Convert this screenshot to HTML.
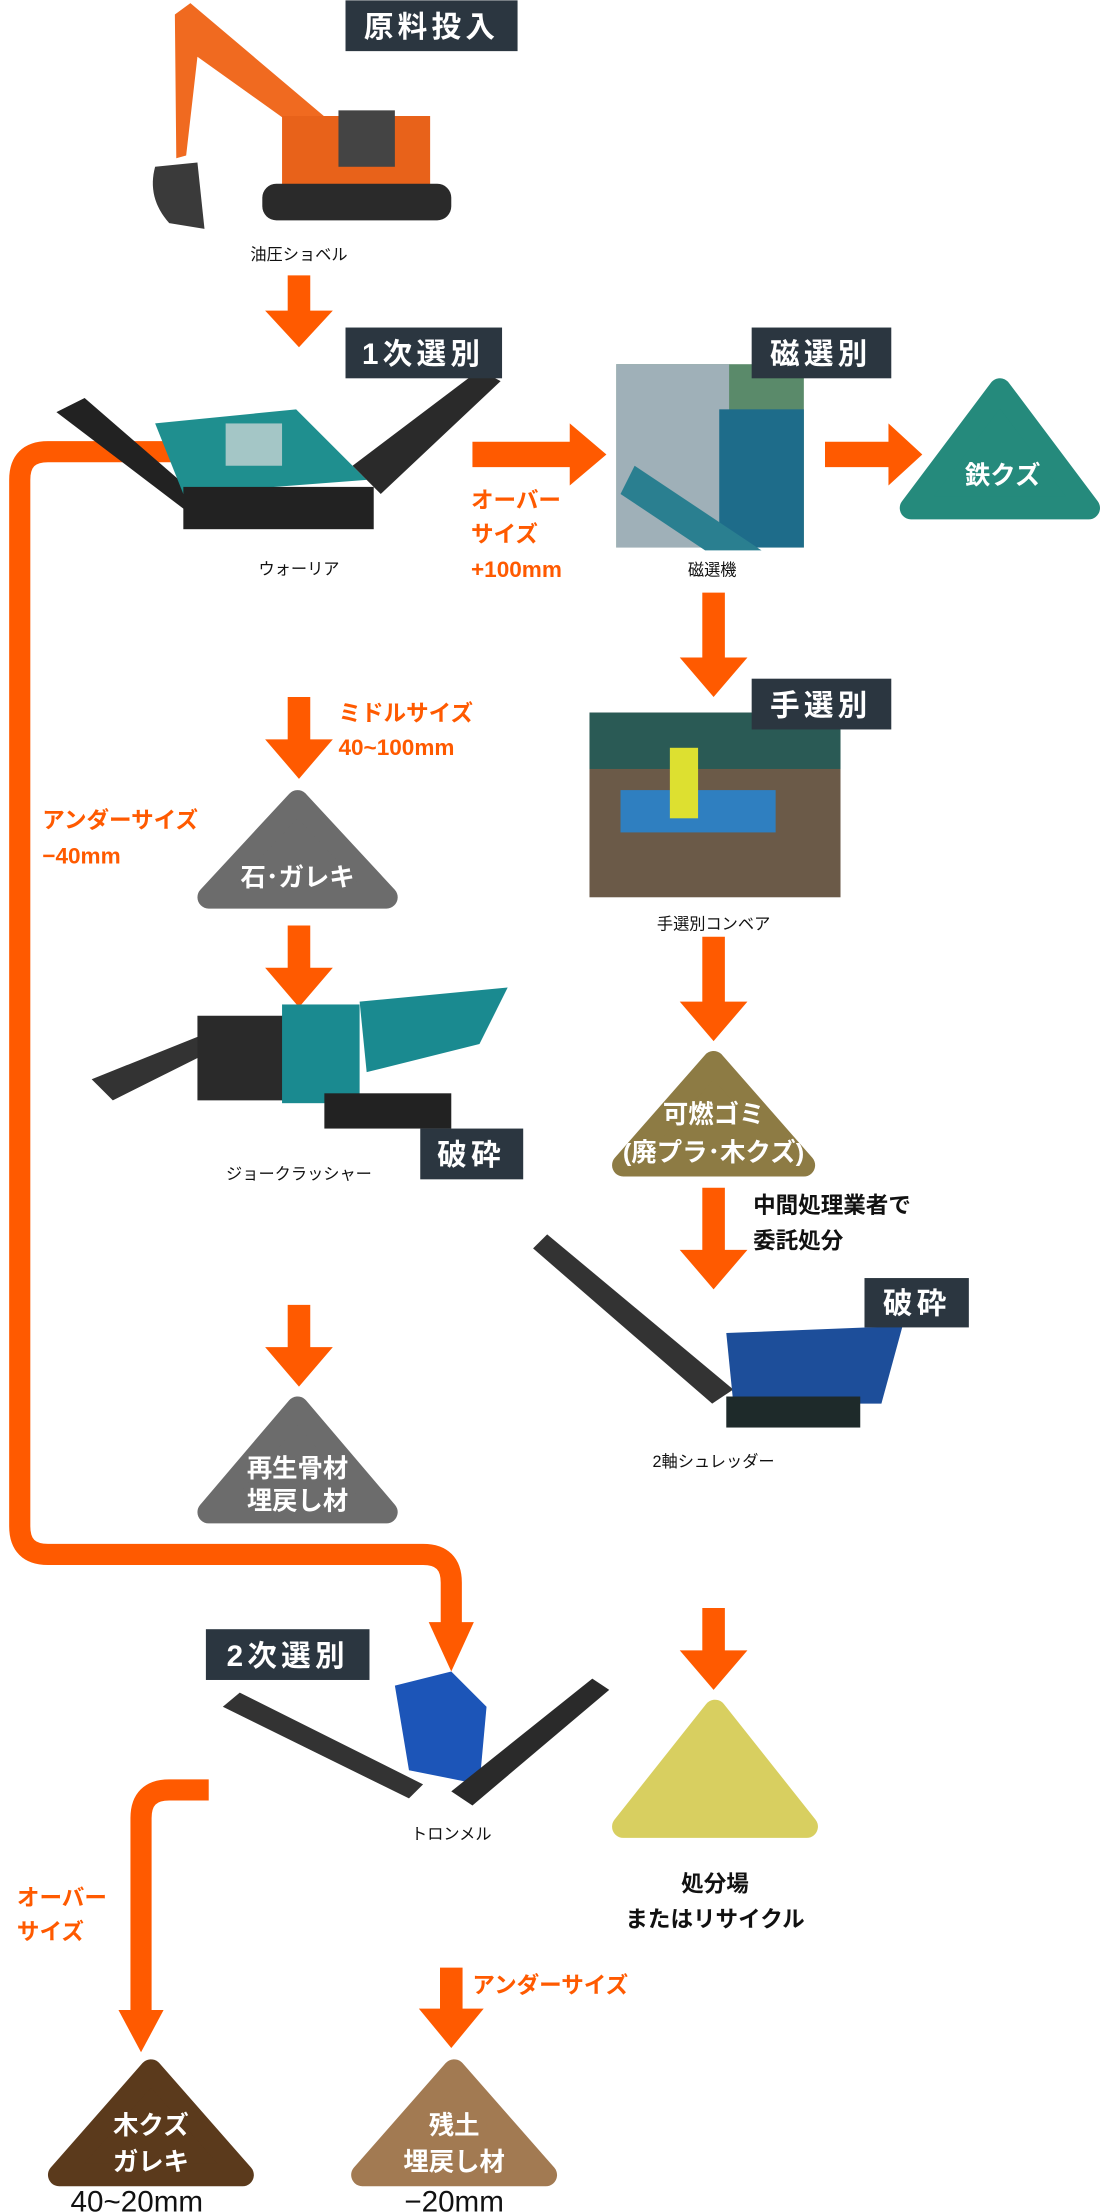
<!DOCTYPE html>
<html><head><meta charset="utf-8"><style>
html,body{margin:0;padding:0;background:#fff;}
svg{display:block;}
text{font-family:"Liberation Sans","Noto Sans CJK JP",sans-serif;}
</style></head><body>
<svg width="1100" height="2212" viewBox="0 0 780 1568" xmlns="http://www.w3.org/2000/svg">
<!-- orange connectors -->
<g fill="none" stroke="#ff5a00" stroke-width="15">
<path d="M122 320 H34 Q14 320 14 340 V1082 Q14 1102 34 1102 H300 Q320 1102 320 1122 V1160"/>
<path d="M148 1269 H120 Q100 1269 100 1289 V1430"/>
</g>
<g fill="#ff5a00">
<path d="M204 195 H220 V220 H236 L212 246 L188 220 H204 Z"/>
<path d="M335 313 H404 V300 L430 322 L404 344 V331 H335 Z"/>
<path d="M585 313 H630 V300 L654 322 L630 344 V331 H585 Z"/>
<path d="M498 420 H514 V466 H530 L506 494 L482 466 H498 Z"/>
<path d="M204 494 H220 V524 H236 L212 552 L188 524 H204 Z"/>
<path d="M204 656 H220 V686 H236 L212 714 L188 686 H204 Z"/>
<path d="M498 664 H514 V710 H530 L506 738 L482 710 H498 Z"/>
<path d="M498 842 H514 V886 H530 L506 914 L482 886 H498 Z"/>
<path d="M204 925 H220 V955 H236 L212 983 L188 955 H204 Z"/>
<path d="M304 1150 H336 L320 1185 Z"/>
<path d="M498 1140 H514 V1170 H530 L506 1198 L482 1170 H498 Z"/>
<path d="M84 1425 H116 L100 1455 Z"/>
<path d="M312 1395 H328 V1424 H343 L320 1452 L297 1424 H312 Z"/>
</g>
<!-- machines (approximations) -->
<g>
<path d="M124 10 L135 2 L245 95 L238 110 L140 40 L132 110 L125 112 Z" fill="#f06a20"/>
<path d="M110 118 Q104 140 120 158 L145 162 L140 115 Z" fill="#3a3a3a"/>
<rect x="200" y="82" width="105" height="52" fill="#e8621a"/>
<rect x="240" y="78" width="40" height="40" fill="#444"/>
<rect x="186" y="130" width="134" height="26" rx="10" fill="#2a2a2a"/>
</g>
<g>
<path d="M40 292 L60 282 L150 360 L140 368 Z" fill="#222"/>
<path d="M110 300 L210 290 L260 340 L130 350 Z" fill="#1f8f8f"/>
<path d="M250 330 L340 262 L355 270 L270 350 Z" fill="#2a2a2a"/>
<rect x="160" y="300" width="40" height="30" fill="#ddd" opacity=".7"/>
<rect x="130" y="345" width="135" height="30" fill="#222"/>
</g>
<rect x="437" y="258" width="133" height="130" fill="#5a8a6a"/>
<rect x="437" y="258" width="80" height="130" fill="#9fb0b8"/>
<rect x="510" y="290" width="60" height="98" fill="#1e6c8a"/>
<path d="M450 330 L540 390 L500 390 L440 350 Z" fill="#2a7f90"/>
<rect x="418" y="505" width="178" height="131" fill="#6b5a48"/>
<rect x="418" y="505" width="178" height="40" fill="#2a5a55"/>
<rect x="440" y="560" width="110" height="30" fill="#2f7fc0"/>
<rect x="475" y="530" width="20" height="50" fill="#dde030"/>
<g>
<path d="M65 765 L140 735 L150 745 L80 780 Z" fill="#333"/>
<rect x="140" y="720" width="110" height="60" fill="#2a2a2a"/>
<rect x="200" y="712" width="55" height="70" fill="#1a8a90"/>
<path d="M255 710 L360 700 L340 740 L260 760 Z" fill="#1a8a90"/>
<rect x="230" y="775" width="90" height="25" fill="#222"/>
</g>
<g>
<path d="M378 885 L388 875 L520 985 L505 995 Z" fill="#333"/>
<path d="M515 945 L640 940 L625 995 L520 995 Z" fill="#1d4e9a"/>
<rect x="515" y="990" width="95" height="22" fill="#1e2a2a"/>
</g>
<g>
<path d="M158 1210 L170 1200 L300 1265 L290 1275 Z" fill="#333"/>
<path d="M280 1195 L320 1185 L345 1210 L340 1265 L290 1255 Z" fill="#1c55b8"/>
<path d="M320 1270 L420 1190 L432 1198 L335 1280 Z" fill="#2a2a2a"/>
</g>
<!-- dark label boxes -->
<g fill="#2b3640">
<rect x="245" y="0" width="122" height="36"/>
<rect x="245" y="232" width="111" height="36"/>
<rect x="533" y="232" width="99" height="36"/>
<rect x="533" y="481" width="99" height="36"/>
<rect x="298" y="800" width="73" height="36"/>
<rect x="613" y="906" width="74" height="35"/>
<rect x="146" y="1155" width="116" height="36"/>
</g>
<g fill="#fff" font-size="21" font-weight="bold" text-anchor="middle" letter-spacing="3">
<text x="306" y="26">原料投入</text>
<text x="300" y="258">1次選別</text>
<text x="582" y="258">磁選別</text>
<text x="582" y="507">手選別</text>
<text x="334" y="826">破砕</text>
<text x="650" y="931">破砕</text>
<text x="204" y="1181">2次選別</text>
</g>
<!-- captions -->
<g fill="#111" font-size="11.5" text-anchor="middle">
<text x="212" y="184">油圧ショベル</text>
<text x="212" y="407">ウォーリア</text>
<text x="505" y="408">磁選機</text>
<text x="506" y="659">手選別コンベア</text>
<text x="212" y="836">ジョークラッシャー</text>
<text x="506" y="1040">2軸シュレッダー</text>
<text x="320" y="1304">トロンメル</text>
</g>
<!-- triangles -->
<g stroke-linejoin="round" stroke-width="16">
<path d="M709 276 L772 360 L646 360 Z" fill="#258a7c" stroke="#258a7c"/>
<path d="M211 568 L274 636 L148 636 Z" fill="#6c6c6c" stroke="#6c6c6c"/>
<path d="M211 998 L274 1072 L148 1072 Z" fill="#6c6c6c" stroke="#6c6c6c"/>
<path d="M506 753 L570 826 L442 826 Z" fill="#8d7b44" stroke="#8d7b44"/>
<path d="M507 1213 L572 1295 L442 1295 Z" fill="#d8cf60" stroke="#d8cf60"/>
<path d="M107 1468 L172 1542 L42 1542 Z" fill="#5b3a1c" stroke="#5b3a1c"/>
<path d="M322 1468 L387 1542 L257 1542 Z" fill="#a27a52" stroke="#a27a52"/>
</g>
<g fill="#fff" font-size="18" font-weight="bold" text-anchor="middle">
<text x="711" y="343">鉄クズ</text>
<text x="211" y="628">石･ガレキ</text>
<text x="211" y="1047">再生骨材</text>
<text x="211" y="1070">埋戻し材</text>
<text x="506" y="796">可燃ゴミ</text>
<text x="506" y="823">(廃プラ･木クズ)</text>
<text x="107" y="1513">木クズ</text>
<text x="107" y="1539">ガレキ</text>
<text x="322" y="1513">残土</text>
<text x="322" y="1539">埋戻し材</text>
</g>
<!-- orange labels -->
<g fill="#ff5a00" font-size="16" font-weight="bold">
<text x="334" y="360">オーバー</text>
<text x="334" y="384">サイズ</text>
<text x="334" y="409">+100mm</text>
<text x="240" y="511">ミドルサイズ</text>
<text x="240" y="535">40~100mm</text>
<text x="30" y="587">アンダーサイズ</text>
<text x="30" y="612">−40mm</text>
<text x="12" y="1351">オーバー</text>
<text x="12" y="1375">サイズ</text>
<text x="335" y="1413">アンダーサイズ</text>
</g>
<g fill="#111" font-size="16" font-weight="bold">
<text x="534" y="860">中間処理業者で</text>
<text x="534" y="885">委託処分</text>
<text x="507" y="1341" text-anchor="middle">処分場</text>
<text x="507" y="1366" text-anchor="middle">またはリサイクル</text>
</g>
<g fill="#111" font-size="21" text-anchor="middle">
<text x="97" y="1568">40~20mm</text>
<text x="322" y="1568">−20mm</text>
</g>
</svg>
</body></html>
